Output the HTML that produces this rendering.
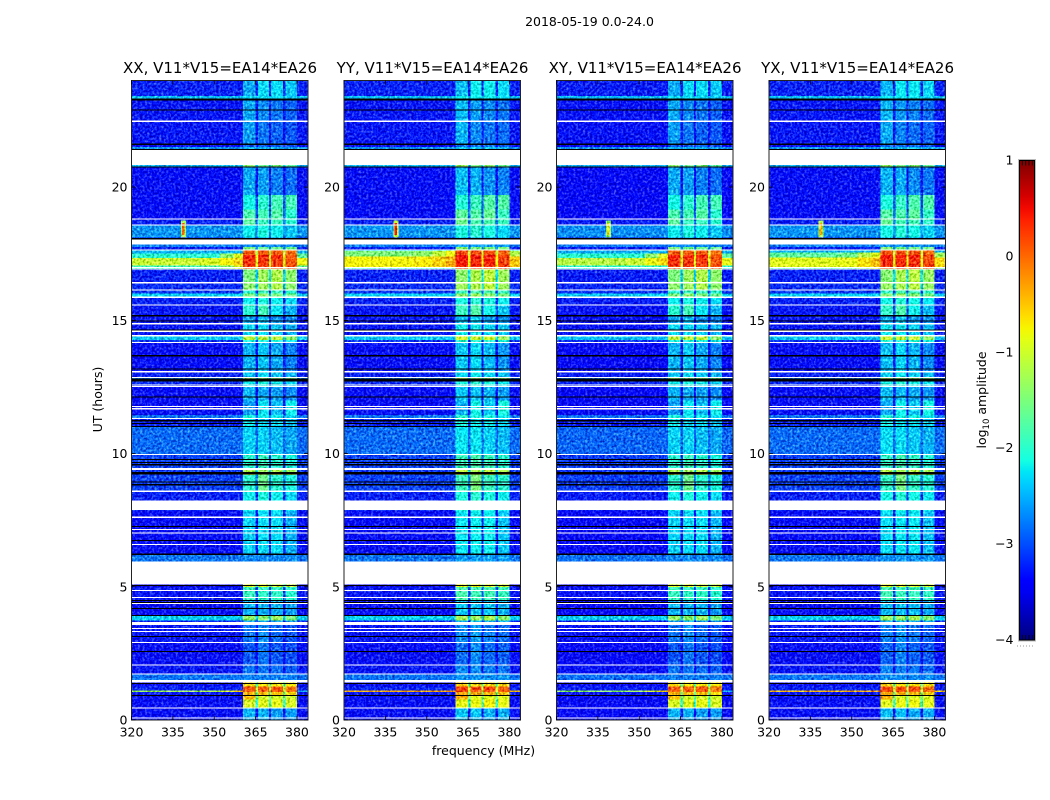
<!DOCTYPE html>
<html lang="en">
<head>
<meta charset="utf-8">
<title>2018-05-19 0.0-24.0</title>
<style>
html,body{margin:0;padding:0;background:#fff;width:1050px;height:800px;overflow:hidden}
svg{display:block}
text{font-family:"DejaVu Sans","Liberation Sans",sans-serif;fill:#000}
</style>
</head>
<body>
<svg id="figure" xmlns="http://www.w3.org/2000/svg" width="1050" height="800" viewBox="0 0 1050 800">
  <defs>
    <filter id="speckle" x="0" y="0" width="1" height="1" color-interpolation-filters="sRGB">
      <feTurbulence type="fractalNoise" baseFrequency="0.42" numOctaves="2" seed="4" result="n"/>
      <feColorMatrix in="n" type="matrix" values="1 0 0 0 0 1 0 0 0 0 1 0 0 0 0 0 0 0 0 1" result="g"/>
      <feComposite in="SourceGraphic" in2="g" operator="arithmetic" k1="0" k2="1" k3="1" k4="-0.5"/>
    </filter>
    <linearGradient id="jet-gradient" x1="0" y1="1" x2="0" y2="0"></linearGradient>
  </defs>
  <text x="589.5" y="26" font-size="12.5" text-anchor="middle">2018-05-19 0.0-24.0</text>
  <g id="panels"></g>
  <text x="483.5" y="755" font-size="12.5" text-anchor="middle">frequency (MHz)</text>
  <text x="0" y="0" font-size="12.5" text-anchor="middle" transform="translate(102,399.5) rotate(-90)">UT (hours)</text>
  <g id="colorbar"></g>
  <text x="0" y="0" font-size="12.5" text-anchor="middle" transform="translate(986,400) rotate(-90)">log<tspan font-size="8.5" dy="3">10</tspan><tspan dy="-3"> amplitude</tspan></text>
</svg>
<script>
// ---- chart data -------------------------------------------------------
const panelTitles = ["XX, V11*V15=EA14*EA26", "YY, V11*V15=EA14*EA26", "XY, V11*V15=EA14*EA26", "YX, V11*V15=EA14*EA26"];
const xTickLabels = [320, 335, 350, 365, 380];
const yTickLabels = [0, 5, 10, 15, 20];
const colorbarTickLabels = [1, 0, -1, -2, -3, -4];

// UT hours bounding each horizontal segment of the dynamic spectrum
const hourEdges = [0,.43,.76,.94,1.05,1.11,1.25,1.41,1.5,1.72,2.05,2.9,3.56,3.73,3.92,4.46,5,5.08,5.94,6.19,7.84,8.6,9.2,9.45,9.95,11,11.33,11.45,12,12.5,12.72,12.88,13.1,14.14,14.26,14.42,14.9,15.2,15.55,15.9,16,16.13,16.4,16.9,17.06,17.33,17.45,17.63,17.75,17.85,18.1,18.56,18.8,19.15,19.7,20.75,21.41,21.5,21.64,22.5,23.33,23.42,24];

// log10 amplitude, 320-360 MHz background for each segment
const backgroundLevels = [-3.3,-3.3,-3.3,-3.25,-1.4,-3.2,-3.3,-3.3,-2.8,-3.25,-3.3,-3.25,-3.2,-2.35,-3.3,-3.25,-3.5,-3.5,-2.8,-3.3,-3.2,-3.05,-3.1,-3.05,-2.85,-3.2,-2.8,-3.3,-3.3,-3.15,-2.75,-3.2,-3.3,-3.1,-2.4,-3.25,-3.25,-3.25,-3.2,-2.35,-3.1,-3.15,-3.2,-2.0,-1.0,-2.1,-2.5,-3.2,-2.75,-3.3,-2.65,-3.2,-3.3,-3.3,-3.3,-2.5,-2.65,-3.3,-3.25,-3.25,-2.45,-3.2];

// log10 amplitude in the four 360-380 MHz sub-bands for each segment
const subbandLevels = [
 [-2.5,-2.5,-2.6,-2.6],[-.95,-.9,-.85,-.95],[-.45,-1,-1,-1],[-.4,-.45,-.5,-.6],[.05,.05,.05,-.05],[.1,.05,.1,-.1],[-.6,-.7,-.7,-.7],[-2.7,-2.7,-2.7,-2.7],
 [-2.75,-2.75,-2.75,-2.75],[-2.8,-2.8,-2.85,-2.9],[-2.95,-2.8,-2.95,-3],[-2.8,-2.7,-2.85,-2.95],[-2.6,-2.5,-2.6,-2.6],[-1.35,-1.4,-1.3,-1.5],[-2.5,-2.5,-2.5,-2.6],[-1.9,-1.95,-1.95,-2],
 [-.9,-.85,-1,-1.05],[-2.7,-2.7,-2.7,-2.7],[-2.7,-2.7,-2.7,-2.7],[-2.35,-2.3,-2.3,-2.5],[-2.2,-2.1,-2.2,-2.3],[-2,-1.6,-2,-2.1],[-1.2,-1.3,-1.2,-1.3],[-2,-1.9,-2,-2.1],
 [-2.35,-2.35,-2.45,-2.55],[-2.2,-2.3,-2.3,-2.4],[-2.1,-2.2,-2.2,-2.3],[-2.6,-2.25,-2.45,-2.2],[-2.5,-2.55,-2.6,-2.7],[-2.2,-2.1,-2.2,-2.3],[-1.3,-1.4,-1.4,-1.5],[-2.4,-2.3,-2.4,-2.5],
 [-2.5,-2.4,-2.55,-2.75],[-2.1,-2.1,-2.1,-2.2],[-1.1,-1.1,-1.1,-1.4],[-2.3,-2.3,-2.4,-2.5],[-2.55,-2.45,-2.65,-2.7],[-2,-1.85,-2.25,-2.5],[-2.2,-2.1,-2.2,-2.3],[-1.5,-1.4,-1.5,-1.6],
 [-2,-1.9,-1.9,-2],[-1.4,-1.3,-1.2,-1.4],[-1.5,-1.3,-1.2,-1.4],[.2,.25,.2,.15],[.3,.25,.25,.1],[.4,.35,.35,.1],[.05,.05,.05,-.05],[-1.5,-1.6,-1.6,-1.6],
 [-2.7,-2.7,-2.7,-2.7],[-2.7,-2.7,-2.7,-2.7],[-2.2,-2.1,-2.2,-2.4],[-1.7,-1.9,-1.9,-2],[-1.8,-1.85,-1.75,-2],[-2.15,-2,-1.85,-1.85],[-2.55,-2.6,-2.75,-2.85],[-1.4,-1.6,-1.5,-1.7],
 [-2.5,-2.5,-2.5,-2.6],[-2.9,-2.9,-2.9,-3],[-2.6,-2.8,-2.9,-2.95],[-2.55,-2.7,-2.8,-2.9],[-2.3,-2.3,-2.3,-2.4],[-2.55,-2.3,-2.3,-2.4]
];

// per-polarisation level offsets
const panelBackgroundOffsets = [0, 0, -.03, 0];
const panelBandOffsets = [0, .1, 0, .06];

// broadband interference: panel, [hour low, hour high], levels at 320-345 / 345-352 / 352-357 / 357-360 / 380-384 MHz
const rfiPanels = [0, 0, 0, 1, 1, 1, 2, 2, 3, 3, 3, 0, 1, 2, 3];
const rfiHours = [[17.06,17.33],[16.95,17.06],[17.33,17.5],[16.98,17.4],[17.4,17.6],[17.6,17.66],[17.06,17.33],[17.33,17.5],[17,17.35],[17.35,17.55],[16.95,17],[1.05,1.11],[1.05,1.11],[1.05,1.11],[1.05,1.11]];
const rfiLevels = [[-1.05,-.95,-.75,-.55,-.8],[-1.9,-1.8,-1.5,-1,-1.7],[-2,-2,-1.4,-.9,-1.7],[-.75,-.7,-.55,-.35,-.5],[-1.5,-1.4,-1.1,-.8,-1.2],[-2.3,-2.3,-2,-1.6,-2],[-1.15,-1.05,-.8,-.6,-.85],[-2,-2,-1.4,-.9,-1.7],[-.9,-.85,-.65,-.45,-.6],[-1.7,-1.6,-1.2,-.9,-1.3],[-1.9,-1.8,-1.5,-1,-1.7],[-1.3,-1.2,-1,-.6,-2.6],[-.35,-.35,-.3,-.2,-.5],[-1.4,-1.3,-1,-.6,-2.6],[-.4,-.4,-.3,-.2,-.5]];

// narrow source near 338.8 MHz around 18.4 UT: outer and core levels per panel
const spotFrequency = [338.8];
const spotHours = [18.1, 18.75];
const spotOuterLevels = [-1.3, -1.1, -1.4, -1.2];
const spotCoreLevels = [0, .3, -.7, -.4];

// flagged time ranges (white = no data, black = zeroed)
const whiteGaps = [[.06,.09],[.43,.47],[1.41,1.5],[1.71,1.74],[2.04,2.08],[2.89,2.93],[3.3,3.34],[3.41,3.45],[3.56,3.68],[4.35,4.39],[4.58,4.61],[4.84,4.88],[5.08,5.94],[6.56,6.6],[6.99,7.03],[7.13,7.16],[7.59,7.63],[7.88,8.23],[8.55,8.61],[9.38,9.45],[9.94,9.98],[11.29,11.33],[11.66,11.7],[11.74,11.78],[12.51,12.54],[12.56,12.6],[12.84,12.88],[13.05,13.09],[14.14,14.18],[14.4,14.44],[14.57,14.61],[14.85,14.89],[15.56,15.6],[15.83,15.9],[16.13,16.16],[16.39,16.43],[16.91,16.95],[16.99,17.01],[17.63,17.66],[17.85,18.04],[18.56,18.6],[18.79,18.83],[20.83,21.41],[22.44,22.5]];
const blackLines = [[.9,.94],[1.35,1.39],[2.55,2.59],[3.11,3.15],[3.9,3.94],[4.16,4.2],[4.39,4.42],[4.46,4.5],[5.03,5.06],[6.19,6.24],[6.71,6.75],[7.24,7.28],[8.81,8.85],[8.93,8.96],[9.21,9.3],[9.56,9.6],[9.66,9.69],[9.75,9.79],[11,11.04],[11.1,11.14],[11.21,11.25],[12.11,12.15],[12.71,12.81],[13.16,13.2],[13.65,13.69],[14.63,14.66],[14.96,15],[15.15,15.19],[18.04,18.09],[20.74,20.78],[21.41,21.43],[21.58,21.64],[22.88,22.91],[23.25,23.33]];

// frequency ranges of the four sub-bands (MHz)
const subbandRanges = [[360.5,364.9],[365.8,369.9],[370.6,374.9],[375.8,380]];
const rfiFrequencyRanges = [[320,345],[345,352],[352,357],[357,360.5],[380,384]];

// ---- axes -------------------------------------------------------------
const panelLefts = [131.5, 344, 556.5, 769];
const panelWidth = 176.5, plotTop = 80.5, plotBottom = 720;
const freqMin = 320, freqMax = 384, hourMax = 24, levelMin = -4, levelMax = 1;
const xScale = (p, f) => panelLefts[p] + (f - freqMin) / (freqMax - freqMin) * panelWidth;
const yScale = h => plotBottom - h / hourMax * (plotBottom - plotTop);

function interp(t, pts) {
  for (let i = 1; i < pts.length; i++) {
    if (t <= pts[i][0]) {
      const a = pts[i - 1], b = pts[i];
      return a[1] + (b[1] - a[1]) * (t - a[0]) / (b[0] - a[0]);
    }
  }
  return pts[pts.length - 1][1];
}
function jet(level) {
  const t = Math.max(0, Math.min(1, (level - levelMin) / (levelMax - levelMin)));
  const r = interp(t, [[0,0],[.35,0],[.66,1],[.89,1],[1,.5]]);
  const g = interp(t, [[0,0],[.125,0],[.375,1],[.64,1],[.91,0],[1,0]]);
  const b = interp(t, [[0,.5],[.11,1],[.34,1],[.65,0],[1,0]]);
  return 'rgb(' + Math.round(r * 255) + ',' + Math.round(g * 255) + ',' + Math.round(b * 255) + ')';
}

const NS = 'http://www.w3.org/2000/svg';
function make(tag, parent, attrs) {
  const el = document.createElementNS(NS, tag);
  for (const k in attrs) el.setAttribute(k, attrs[k]);
  parent.appendChild(el);
  return el;
}
function cell(parent, p, f0, f1, h0, h1, level) {
  const x0 = xScale(p, f0), x1 = xScale(p, f1), y0 = yScale(h1), y1 = yScale(h0);
  const el = make('rect', parent, {x: x0, y: y0, width: x1 - x0, height: y1 - y0, fill: jet(level), 'shape-rendering': 'crispEdges'});
  
  
  return el;
}
function hourBand(parent, p, range, color, name) {
  const el = make('rect', parent, {x: xScale(p, freqMin), y: yScale(range[1]), width: panelWidth, height: Math.max(1, yScale(range[0]) - yScale(range[1])), fill: color, 'shape-rendering': 'crispEdges'});
  
  
}

// ---- panels -----------------------------------------------------------
const panelsRoot = document.getElementById('panels');
panelTitles.forEach((title, p) => {
  const panel = make('g', panelsRoot, {});
  
  

  const heat = make('g', panel, {filter: 'url(#speckle)'});
  
  

  backgroundLevels.forEach((bgRaw, i) => {
    const h0 = hourEdges[i], h1 = hourEdges[i + 1];
    const bg = bgRaw + panelBackgroundOffsets[p];
    const bands = subbandLevels[i].map(v => v + panelBandOffsets[p]);
    const gap = Math.max(bg, Math.max.apply(null, bands) - 1.2);
    cell(heat, p, freqMin, subbandRanges[0][0], h0, h1, bg);
    subbandRanges.forEach((range, b) => {
      cell(heat, p, range[0], range[1], h0, h1, bands[b]);
      if (b < subbandRanges.length - 1) cell(heat, p, range[1], subbandRanges[b + 1][0], h0, h1, gap);
    });
    cell(heat, p, subbandRanges[3][1], freqMax, h0, h1, bg);
  });

  rfiPanels.forEach((rp, i) => {
    if (rp !== p) return;
    rfiFrequencyRanges.forEach((range, c) => {
      cell(heat, p, range[0], range[1], rfiHours[i][0], rfiHours[i][1], rfiLevels[i][c]);
    });
  });

  cell(heat, p, spotFrequency[0] - .9, spotFrequency[0] + .9, spotHours[0], spotHours[1], spotOuterLevels[p]);
  cell(heat, p, spotFrequency[0] - .5, spotFrequency[0] + .5, spotHours[0] + .1, spotHours[1] - .1, spotCoreLevels[p]);

  whiteGaps.forEach(g => hourBand(panel, p, g, '#ffffff', 'flagged-gap'));
  blackLines.forEach(g => hourBand(panel, p, g, '#000000', 'zeroed-line'));

  // frame
  const frame = make('rect', panel, {x: panelLefts[p], y: plotTop, width: panelWidth, height: plotBottom - plotTop, fill: 'none', stroke: '#222', 'stroke-width': 1});
  
  

  // title
  const t = make('text', panel, {x: panelLefts[p] + panelWidth / 2 + .3, y: 73, 'font-size': 15, 'text-anchor': 'middle'});
  t.textContent = title;
  
  

  // x ticks
  xTickLabels.forEach(v => {
    const x = xScale(p, v);
    make('line', panel, {x1: x, x2: x, y1: plotBottom, y2: plotBottom - 4, stroke: '#000', 'stroke-width': .8});
    make('line', panel, {x1: x, x2: x, y1: plotTop, y2: plotTop + 4, stroke: '#000', 'stroke-width': .8});
    const lab = make('text', panel, {x: x, y: 736.5, 'font-size': 12.5, 'text-anchor': 'middle'});
    lab.textContent = v;
    
    
  });

  // y ticks
  yTickLabels.forEach(v => {
    const y = yScale(v), L = panelLefts[p], R = L + panelWidth;
    make('line', panel, {x1: L, x2: L + 4, y1: y, y2: y, stroke: '#000', 'stroke-width': .8});
    make('line', panel, {x1: R, x2: R - 4, y1: y, y2: y, stroke: '#000', 'stroke-width': .8});
    const lab = make('text', panel, {x: L - 4, y: y + 4.5, 'font-size': 12.5, 'text-anchor': 'end'});
    lab.textContent = v;
    
    
  });
});

// ---- colorbar ---------------------------------------------------------
const cbLeft = 1019.5, cbWidth = 15, cbTop = 160.5, cbBottom = 640;
const cbY = v => cbBottom - (v - levelMin) / (levelMax - levelMin) * (cbBottom - cbTop);
const gradient = document.getElementById('jet-gradient');
for (let i = 0; i <= 40; i++) {
  make('stop', gradient, {offset: i / 40, 'stop-color': jet(levelMin + (levelMax - levelMin) * i / 40)});
}
const cb = document.getElementById('colorbar');
const cbHalo = make('rect', cb, {x: cbLeft - 1, y: cbTop - 1, width: cbWidth + 2, height: cbBottom - cbTop + 2, fill: 'none', stroke: '#bbb', 'stroke-width': 1});


const cbRamp = make('rect', cb, {x: cbLeft, y: cbTop, width: cbWidth, height: cbBottom - cbTop, fill: 'url(#jet-gradient)', stroke: '#000', 'stroke-width': 1});


[1022.3, 1025.7, 1029, 1032.3].forEach(x => {
  make('line', cb, {x1: x, x2: x, y1: cbTop, y2: cbTop + 5, stroke: '#000', 'stroke-width': .8});
  make('line', cb, {x1: x, x2: x, y1: cbBottom, y2: cbBottom - 5, stroke: '#000', 'stroke-width': .8});
});
make('line', cb, {x1: 1017, x2: 1035, y1: 646, y2: 646, stroke: '#999', 'stroke-width': 1, 'stroke-dasharray': '1 2'});
colorbarTickLabels.forEach(v => {
  const lab = make('text', cb, {x: 1013.5, y: cbY(v) + 4, 'font-size': 12.5, 'text-anchor': 'end'});
  lab.textContent = v < 0 ? '\u2212' + Math.abs(v) : String(v);
  
  
});
</script>
</body>
</html>
